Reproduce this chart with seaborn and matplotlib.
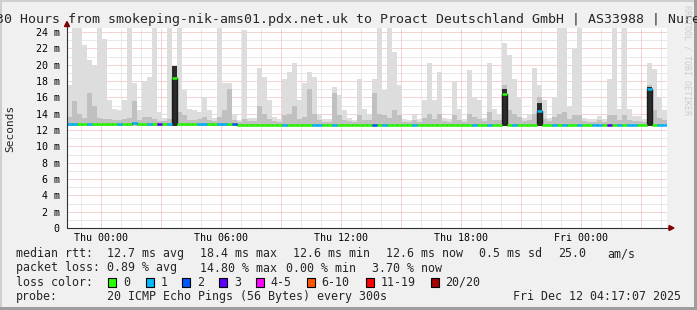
import numpy as np
import pandas as pd
import matplotlib
matplotlib.use("Agg")
import matplotlib.pyplot as plt
from matplotlib.patches import Rectangle, Polygon
import seaborn as sns

# ---------------- data ----------------
title = "30 Hours from smokeping-nik-ams01.pdx.net.uk to Proact Deutschland GmbH | AS33988 | Nuremberg"
watermark = "RRDTOOL / TOBI OETIKER"
y_label = "Seconds"

start_hour = -1 - 43 / 60          # Wed 22:17 relative to Thu 00:00
bin_hours = 0.25                   # 15-minute bins
smoke_floor = 12.5

smoke_max = [
    17.5, 24.5, 24.5, 22.4, 20.6, 19.8, 24.5, 23.2, 15.7, 14.6,
    14.4, 15.7, 24.5, 17.7, 14.4, 18.0, 18.5, 24.5, 14.2, 13.5,
    24.5, 19.8, 24.5, 16.9, 14.6, 14.4, 14.2, 16.1, 14.4, 13.5,
    24.5, 17.7, 17.7, 13.9, 13.2, 24.2, 13.5, 13.5, 19.6, 18.5,
    15.7, 13.6, 13.3, 18.3, 19.1, 20.2, 15.7, 17.7, 19.1, 18.5,
    13.9, 13.3, 13.3, 17.3, 16.3, 14.4, 13.5, 13.2, 18.2, 14.6,
    13.9, 18.2, 24.5, 16.9, 24.5, 21.6, 17.5, 13.3, 13.2, 13.9,
    13.3, 15.7, 20.2, 15.7, 19.1, 13.5, 13.3, 18.0, 14.6, 13.3,
    19.4, 16.1, 15.7, 13.5, 20.2, 14.6, 13.9, 22.6, 21.2, 18.2,
    16.1, 13.5, 13.9, 19.6, 17.5, 15.7, 13.5, 16.1, 24.5, 24.5,
    15.0, 22.1, 24.5, 13.5, 13.3, 13.3, 13.7, 13.3, 18.2, 24.5,
    14.6, 24.5, 14.6, 13.7, 13.7, 13.3, 20.2, 19.5, 16.0, 14.4,
]

smoke_mid = [
    13.6, 15.5, 14.0, 13.5, 16.5, 15.0, 13.5, 13.3, 13.3, 13.2,
    13.2, 13.4, 13.5, 15.5, 13.2, 13.6, 13.6, 13.3, 13.1, 13.1,
    13.4, 19.8, 14.2, 13.8, 13.2, 13.2, 13.4, 13.6, 13.2, 13.1,
    13.6, 14.5, 17.0, 13.2, 13.0, 13.4, 13.1, 13.1, 15.0, 14.0,
    13.4, 13.1, 13.0, 13.8, 14.0, 15.0, 13.3, 13.6, 17.0, 14.0,
    13.2, 13.0, 13.0, 16.5, 13.8, 13.2, 13.1, 13.0, 13.8, 13.2,
    13.2, 16.5, 14.0, 13.8, 13.5, 14.5, 13.8, 13.0, 13.0, 13.2,
    13.0, 13.5, 14.0, 13.4, 14.0, 13.1, 13.0, 13.8, 13.2, 13.0,
    14.0, 13.6, 13.4, 13.1, 14.2, 13.2, 13.2, 17.5, 14.5, 14.0,
    13.6, 13.1, 13.2, 14.0, 16.0, 13.4, 13.1, 13.6, 14.0, 14.2,
    13.3, 13.8, 13.8, 13.1, 13.0, 13.0, 13.2, 13.0, 13.8, 13.8,
    13.2, 13.8, 13.2, 13.1, 13.1, 13.0, 17.5, 14.5, 13.5, 13.2,
]

dark_bins = [21, 87, 94, 116]
dark_top = [19.8, 17.0, 15.3, 17.3]

median_rtt = [
    12.72, 12.72, 12.72, 12.72, 12.75, 12.72, 12.72, 12.72, 12.72, 12.72,
    12.75, 12.72, 12.75, 12.80, 12.75, 12.72, 12.75, 12.72, 12.75, 12.72,
    12.72, 18.40, 12.72, 12.72, 12.70, 12.70, 12.68, 12.70, 12.68, 12.68,
    12.70, 12.72, 12.70, 12.70, 12.62, 12.62, 12.62, 12.62, 12.62, 12.62,
    12.62, 12.62, 12.62, 12.62, 12.62, 12.62, 12.62, 12.62, 12.62, 12.62,
    12.62, 12.62, 12.62, 12.62, 12.62, 12.62, 12.62, 12.62, 12.62, 12.62,
    12.62, 12.62, 12.62, 12.62, 12.62, 12.62, 12.62, 12.62, 12.62, 12.62,
    12.62, 12.62, 12.62, 12.62, 12.62, 12.62, 12.62, 12.62, 12.62, 12.62,
    12.62, 12.62, 12.62, 12.62, 12.62, 12.62, 12.62, 16.40, 12.62, 12.62,
    12.62, 12.62, 12.62, 12.62, 14.30, 12.62, 12.62, 12.62, 12.62, 12.62,
    12.62, 12.62, 12.62, 12.62, 12.62, 12.62, 12.62, 12.62, 12.62, 12.62,
    12.62, 12.62, 12.62, 12.62, 12.62, 12.62, 17.00, 12.62, 12.62, 12.62,
]

loss_idx = [
    1, 1, 0, 0, 1, 0, 0, 0, 0, 0,
    1, 0, 0, 1, 0, 0, 1, 0, 3, 0,
    1, 0, 0, 0, 0, 0, 1, 1, 0, 0,
    1, 1, 0, 2, 0, 0, 0, 0, 0, 0,
    0, 0, 0, 1, 0, 0, 0, 0, 0, 1,
    1, 0, 0, 1, 0, 0, 0, 0, 0, 0,
    0, 2, 0, 1, 0, 0, 0, 0, 0, 1,
    0, 0, 0, 0, 0, 0, 0, 0, 0, 0,
    0, 1, 0, 0, 1, 0, 0, 0, 0, 1,
    0, 0, 0, 0, 1, 0, 0, 1, 0, 1,
    0, 0, 1, 0, 0, 1, 1, 0, 3, 0,
    1, 0, 1, 1, 0, 0, 1, 0, 1, 1,
]

loss_labels = ["0", "1", "2", "3", "4-5", "6-10", "11-19", "20/20"]
loss_colors = ["#26ff00", "#00b8ff", "#0059ff", "#5e00ff",
               "#ff00ff", "#ff5500", "#ff0000", "#a00000"]

x_tick_hours = [0, 6, 12, 18, 24]
x_tick_labels = ["Thu 00:00", "Thu 06:00", "Thu 12:00", "Thu 18:00", "Fri 00:00"]
y_tick_values = [0, 2, 4, 6, 8, 10, 12, 14, 16, 18, 20, 22, 24]
y_tick_labels = ["0", "2 m", "4 m", "6 m", "8 m", "10 m", "12 m",
                 "14 m", "16 m", "18 m", "20 m", "22 m", "24 m"]

median_label = "median rtt:"
median_stats = ["12.7 ms avg", "18.4 ms max", "12.6 ms min",
                "12.6 ms now", "0.5 ms sd", "25.0", "am/s"]
loss_label = "packet loss:"
loss_stats = ["0.89 % avg", "14.80 % max", "0.00 % min", "3.70 % now"]
color_label = "loss color:"
probe_label = "probe:"
probe_text = "20 ICMP Echo Pings (56 Bytes) every 300s"
timestamp = "Fri Dec 12 04:17:07 2025"

# ---------------- style ----------------
W, H = 697, 310
sns.set_theme(style="white")
plt.rcParams["font.family"] = ["DejaVu Sans Mono", "DejaVu Sans"]

fig = plt.figure(figsize=(W / 100, H / 100), dpi=100, facecolor="#f0f0f0")
PL, PR, PT, PB = 67, 667, 28, 228
ax = fig.add_axes([PL / W, 1 - PB / H, (PR - PL) / W, (PB - PT) / H])
ax.set_facecolor("white")

n = len(smoke_max)
edges = start_hour + bin_hours * np.arange(n + 1)
ext = lambda a: np.append(np.asarray(a, float), a[-1])

ax.fill_between(edges, smoke_floor, ext(smoke_max), step="post",
                color="#dddddd", lw=0, zorder=2)
ax.fill_between(edges, smoke_floor, ext(smoke_mid), step="post",
                color="#c0c0c0", lw=0, zorder=2.1)
dark = np.full(n, smoke_floor)
dark[dark_bins] = dark_top
ax.fill_between(edges, smoke_floor, ext(dark), step="post",
                color="#2a2a2a", lw=0, zorder=2.2)

df = pd.DataFrame({"t": edges[:-1], "rtt": median_rtt})
sns.lineplot(data=df, x="t", y="rtt", drawstyle="steps-post",
             color="#1a1a1a", lw=1.0, ax=ax, zorder=3)
ax.hlines(median_rtt, edges[:-1], edges[1:],
          colors=[loss_colors[k] for k in loss_idx], lw=1.8, zorder=4)

ax.set_xlim(start_hour, start_hour + 30)
ax.set_ylim(0, 24 * 200 / 196)
ax.set_xlabel("")
ax.set_ylabel("")

# grid: major (red) every 3 h / 2 ms, minor (grey) every 1 h / 1 ms
maj_x = np.arange(0, 28.5, 3)
ax.set_xticks(maj_x)
ax.set_xticklabels([x_tick_labels[x_tick_hours.index(h)] if h in x_tick_hours else ""
                    for h in maj_x])
ax.set_xticks(np.arange(-1, 29, 1), minor=True)
ax.set_yticks(y_tick_values)
ax.set_yticklabels(y_tick_labels)
ax.set_yticks(np.arange(0, 25, 1), minor=True)
ax.set_axisbelow(True)
ax.grid(which="major", color="#efa8a8", ls=(0, (1, 1)), lw=0.72)
ax.grid(which="minor", color="#d4d4d4", ls=(0, (1, 1)), lw=0.72)
ax.tick_params(which="both", length=0)
ax.tick_params(axis="y", pad=5.4, labelsize=7.16, colors="black")
ax.tick_params(axis="x", pad=3.4, labelsize=7.16, colors="black")
for s in ax.spines.values():
    s.set_visible(False)

# axes lines with arrows
ax.plot([0, 0], [0, 1 + 2 / 200], transform=ax.transAxes, color="#303030",
        lw=0.8, clip_on=False, zorder=5)
ax.plot([0, 1 + 3 / 600], [0, 0], transform=ax.transAxes, color="#303030",
        lw=0.8, clip_on=False, zorder=5)
fig.add_artist(Polygon([[64.5 / W, 1 - 26.5 / H], [69.5 / W, 1 - 26.5 / H],
                        [67 / W, 1 - 21.5 / H]], closed=True,
                       transform=fig.transFigure, color="#800000"))
fig.add_artist(Polygon([[669 / W, 1 - 225.5 / H], [669 / W, 1 - 230.5 / H],
                        [674 / W, 1 - 228 / H]], closed=True,
                       transform=fig.transFigure, color="#800000"))

# frame shading
fig.add_artist(Rectangle((0, 1 - 2 / H), 1, 2 / H, transform=fig.transFigure,
                         color="#cfcfcf", lw=0))
fig.add_artist(Rectangle((0, 0), 2 / W, 1, transform=fig.transFigure,
                         color="#cfcfcf", lw=0))
fig.add_artist(Rectangle((1 - 3 / W, 0), 3 / W, 1, transform=fig.transFigure,
                         color="#9e9e9e", lw=0))
fig.add_artist(Rectangle((0, 0), 1, 3 / H, transform=fig.transFigure,
                         color="#9e9e9e", lw=0))

def ftext(x, y, s, **kw):
    kw.setdefault("fontsize", 8.34)
    kw.setdefault("va", "baseline")
    kw.setdefault("ha", "left")
    fig.text(x / W, 1 - y / H, s, **kw)

ftext(-4, 23, title, fontsize=9.57)
ftext(687, 5, watermark, fontsize=6.0, rotation=270, va="top", ha="center",
      color="#cdcdcd")
ftext(10, 128, y_label, rotation=90, va="center", ha="center", fontsize=8.0)

LX = 16
rows = [257.3, 271.5, 285.7, 299.6]
ftext(LX, rows[0], median_label)
for s, x in zip(median_stats, [107.3, 200, 293.3, 386, 479.3, 558.3, 607.7]):
    ftext(x, rows[0], s)
ftext(LX, rows[1], loss_label)
for s, x in zip(loss_stats, [107.3, 200, 286, 372.3]):
    ftext(x, rows[1], s)
ftext(LX, rows[2], color_label)
box_x = [108.3, 145.7, 182.3, 219.3, 256, 307, 365.7, 430.7]
lab_x = [123.3, 160.7, 197.3, 234.3, 270.7, 321.7, 380.7, 445.3]
for lab, col, bx, lx in zip(loss_labels, loss_colors, box_x, lab_x):
    fig.add_artist(Rectangle((bx / W, 1 - 286.8 / H), 8 / W, 9 / H,
                             transform=fig.transFigure, fc=col, ec="black", lw=0.8))
    ftext(lx, rows[2], lab)
ftext(LX, rows[3], probe_label)
ftext(107.3, rows[3], probe_text)
ftext(513.3, rows[3], timestamp)

fig.savefig("out.png", dpi=100, facecolor=fig.get_facecolor())
